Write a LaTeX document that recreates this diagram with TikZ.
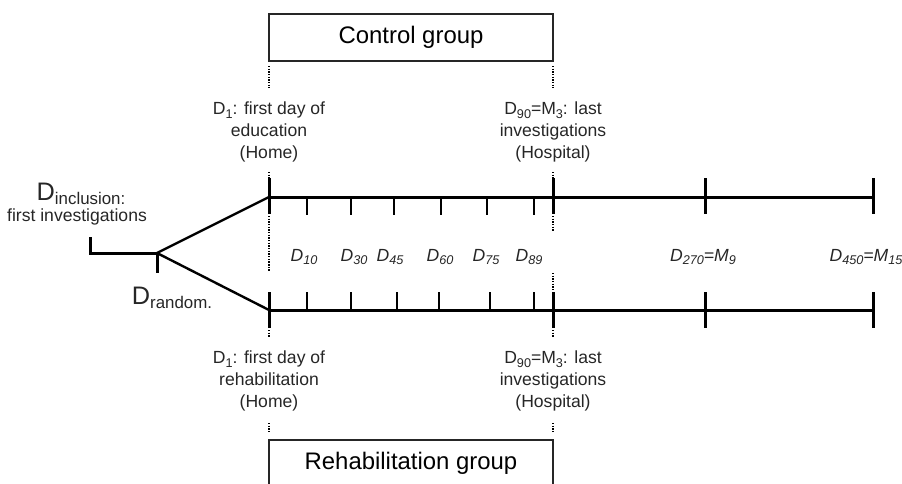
\documentclass[tikz,border=0pt]{standalone}
\usepackage{fontspec}
\setmainfont{Liberation Sans}
\usetikzlibrary{positioning}

\newcommand{\lowidx}[1]{\raisebox{-0.4ex}{\fontsize{9}{9}\selectfont #1}}
\newcommand{\bigidx}[1]{\raisebox{-0.3ex}{\fontsize{12}{12}\selectfont #1}}

\begin{document}
\begin{tikzpicture}
    [x=0.025cm, y=-0.025cm,
     axis/.style={line width=0.075cm},
     fanline/.style={line width=0.06cm},
     majortick/.style={line width=0.075cm},
     minortick/.style={line width=0.06cm},
     dots/.style={line width=0.065cm, dash pattern=on 1pt off 0.9pt},
     groupbox/.style={shape=rectangle, draw=black!85, line width=0.035cm, minimum width=7.1cm, minimum height=1.175cm, inner sep=0pt, font=\fontsize{17}{20}\selectfont},
     infotext/.style={align=center, inner sep=0pt, font=\fontsize{12.5}{15.5}\selectfont, text=black!85},
     daytext/.style={inner sep=0pt, font=\fontsize{12.5}{15}\selectfont\itshape, text=black!85},
    ]

\useasboundingbox (0,0) rectangle (902,483);
\clip (0,0) rectangle (902,483);

% groups
\node[groupbox] (ctrl) at (411,37.5) {Control group};
\node[groupbox] (rehab) at (411,463.5) {Rehabilitation group};

% time points
\coordinate (incltop) at (90,237);
\coordinate (incl) at (90,253);
\coordinate (rand) at (157,253);
\coordinate (randtick) at (157,273);
\coordinate (up0) at (269,197);
\coordinate (up3) at (873,197);
\coordinate (lo0) at (269,310);
\coordinate (lo3) at (873,310);

\draw[axis] (incltop) -- (incl) -- (rand);
\draw[majortick] (rand) -- (randtick);
\draw[fanline] (rand) -- (up0);
\draw[fanline] (rand) -- (lo0);
\draw[axis] (up0) -- (up3);
\draw[axis] (lo0) -- (lo3);

\foreach \x in {269,553,705,873} {
    \draw[majortick] (\x,178) -- (\x,214);
    \draw[majortick] (\x,292) -- (\x,328);
}
\foreach \x in {307,351,394,441,487,534}
    \draw[minortick] (\x,197) -- (\x,215);
\foreach \x in {307,351,397,439,490,534}
    \draw[minortick] (\x,292) -- (\x,310);

% dotted guides
\foreach \x in {269,553} {
    \draw[dots] (\x,66) -- (\x,88);
    \draw[dots] (\x,172) -- (\x,178);
    \draw[dots] (\x,330) -- (\x,338);
    \draw[dots] (\x,423) -- (\x,433);
}
\draw[dots] (269,216) -- (269,272);
\draw[dots] (553,216) -- (553,232);
\draw[dots] (553,273) -- (553,290);

% texts
\node[infotext, anchor=base] (inclname) at (81,200) {\fontsize{18}{18}\selectfont D\bigidx{inclusion:}};
\node[infotext, anchor=base] (inclinfo) at (77,221) {first investigations};
\node[infotext, anchor=base] (randname) at (172,304) {\fontsize{18}{18}\selectfont D\bigidx{random.}};

\node[infotext] (startctrl) at (269,132) {D\lowidx{1}: first day of\\education\\(Home)};
\node[infotext] (endctrl) at (553,132) {D\lowidx{90}=M\lowidx{3}: last\\investigations\\(Hospital)};
\node[infotext] (startrehab) at (269,381) {D\lowidx{1}: first day of\\rehabilitation\\(Home)};
\node[infotext] (endrehab) at (553,381) {D\lowidx{90}=M\lowidx{3}: last\\investigations\\(Hospital)};

\node[daytext] (d10) at (304,257) {D\lowidx{10}};
\node[daytext] (d30) at (354,257) {D\lowidx{30}};
\node[daytext] (d45) at (390,257) {D\lowidx{45}};
\node[daytext] (d60) at (440,257) {D\lowidx{60}};
\node[daytext] (d75) at (486,257) {D\lowidx{75}};
\node[daytext] (d89) at (529,257) {D\lowidx{89}};
\node[daytext] (d270) at (703,257) {D\lowidx{270}=M\lowidx{9}};
\node[daytext] (d450) at (866,257) {D\lowidx{450}=M\lowidx{15}};

\end{tikzpicture}
\end{document}
